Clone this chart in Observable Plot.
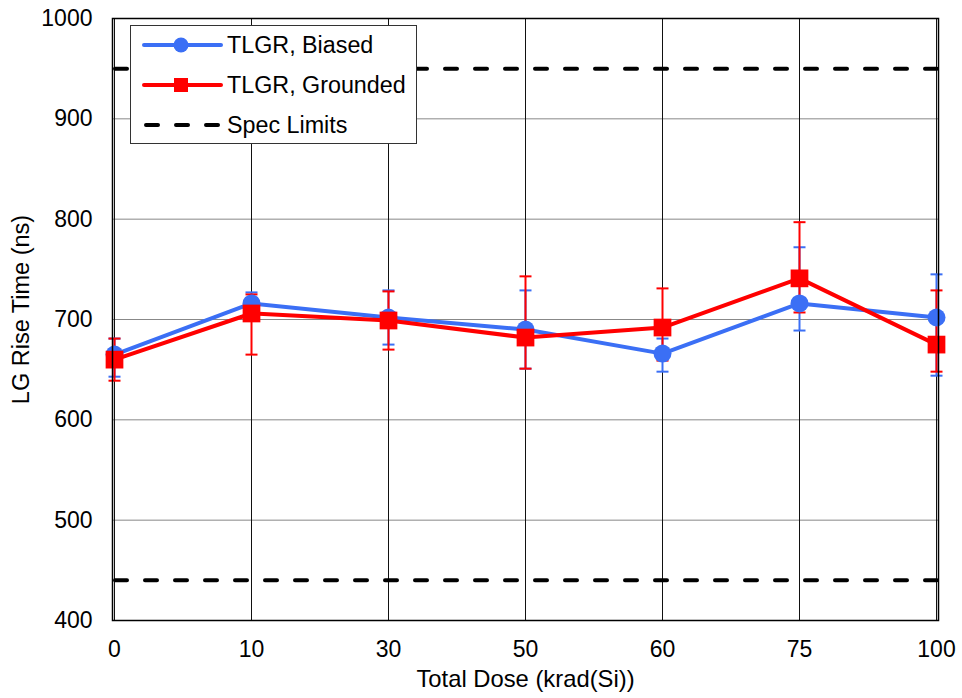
<!DOCTYPE html>
<html>
<head>
<meta charset="utf-8">
<script src="https://cdn.jsdelivr.net/npm/d3@7"></script>
<script src="https://cdn.jsdelivr.net/npm/@observablehq/plot@0.6"></script>
<style>
  html, body { margin: 0; padding: 0; background: #fff; }
  #wrap { position: relative; width: 962px; height: 698px; font-family: "Liberation Sans", Arial, sans-serif; }
  #legend { position: absolute; left: 130px; top: 25px; width: 287px; height: 119px;
            border: 1px solid #333; background: #fff; box-sizing: border-box; }
  #legend svg { position: absolute; left: 0; top: 0; }
</style>
</head>
<body>
<div id="wrap"></div>
<script>
// Total dose steps (krad(Si)), shown as evenly spaced categories
const doses = ["0", "10", "30", "50", "60", "75", "100"];

// TLGR, Biased: mean LG rise time (ns) with min / max
const biased   = [665, 716, 702, 690, 666, 716, 702];
const biasedLo = [643, 706, 675, 651, 648, 689, 644];
const biasedHi = [681, 727, 729, 729, 681, 772, 745];

// TLGR, Grounded: mean LG rise time (ns) with min / max
const grounded   = [660, 706, 699, 682, 692, 741, 675];
const groundedLo = [639, 665, 670, 651, 659, 707, 648];
const groundedHi = [681, 725, 728, 743, 731, 797, 729];

// Specification limits (ns)
const specLimits = [950, 440];

// Y axis ticks
const yTicks = [400, 500, 600, 700, 800, 900, 1000];

const BLUE = "#3b6ff5";
const RED = "#ff0000";
const FONT = "'Liberation Sans', Arial, sans-serif";

const rows = (v, lo, hi) => doses.map((d, i) => ({dose: d, v: v[i], lo: lo[i], hi: hi[i]}));
const biasedRows = rows(biased, biasedLo, biasedHi);
const groundedRows = rows(grounded, groundedLo, groundedHi);

// horizontal cap drawn as a symbol, its half-width equals r
const capSymbol = {
  draw(context, size) {
    const r = Math.sqrt(size / Math.PI);
    context.moveTo(-r, 0);
    context.lineTo(r, 0);
  }
};

const errorBars = (data, color) => [
  Plot.ruleX(data, {x: "dose", y1: "lo", y2: "hi", stroke: color, strokeWidth: 2}),
  Plot.dot(data, {x: "dose", y: "lo", symbol: capSymbol, r: 6, stroke: color, strokeWidth: 2, fill: "none"}),
  Plot.dot(data, {x: "dose", y: "hi", symbol: capSymbol, r: 6, stroke: color, strokeWidth: 2, fill: "none"})
];

const chart = Plot.plot({
  width: 962,
  height: 698,
  marginLeft: 112,
  marginRight: 24,
  marginTop: 18,
  marginBottom: 78,
  style: {fontFamily: FONT, fontSize: "23px", color: "#000", background: "#fff"},
  x: {type: "point", domain: doses, padding: 0, label: null, tickSize: 0, tickPadding: 20},
  y: {domain: [400, 1000], ticks: yTicks, tickFormat: d3.format("d"), label: null, tickSize: 0, tickPadding: 20},
  marks: [
    Plot.ruleY(yTicks, {stroke: "#888", strokeWidth: 1}),
    Plot.ruleX(doses, {stroke: "#111", strokeWidth: 1}),
    Plot.ruleY(specLimits, {stroke: "#000", strokeWidth: 4, strokeDasharray: "12,18", strokeDashoffset: -3, strokeLinecap: "round"}),
    ...errorBars(biasedRows, BLUE),
    ...errorBars(groundedRows, RED),
    Plot.line(biasedRows, {x: "dose", y: "v", stroke: BLUE, strokeWidth: 4}),
    Plot.dot(biasedRows, {x: "dose", y: "v", symbol: "circle", r: 9, fill: BLUE, stroke: "none"}),
    Plot.line(groundedRows, {x: "dose", y: "v", stroke: RED, strokeWidth: 4}),
    Plot.dot(groundedRows, {x: "dose", y: "v", symbol: "square", r: 10, fill: RED, stroke: "none"}),
    Plot.frame({stroke: "#000", strokeWidth: 1.5}),
    Plot.text(["Total Dose (krad(Si))"], {frameAnchor: "bottom", textAnchor: "middle", dy: 66, fontSize: 23.8, fill: "#000"}),
    Plot.text(["LG Rise Time (ns)"], {frameAnchor: "left", textAnchor: "middle", dx: -91, dy: -10, rotate: -90, fontSize: 23.5, fill: "#000"})
  ]
});

const wrap = document.getElementById("wrap");
wrap.appendChild(chart);

// Legend inside the plot area
const legend = document.createElement("div");
legend.id = "legend";
const entries = [
  {label: "TLGR, Biased", color: BLUE, marker: "circle", dash: null},
  {label: "TLGR, Grounded", color: RED, marker: "square", dash: null},
  {label: "Spec Limits", color: "#000", marker: null, dash: "12,18"}
];
const ns = "http://www.w3.org/2000/svg";
const lsvg = document.createElementNS(ns, "svg");
lsvg.setAttribute("width", 287);
lsvg.setAttribute("height", 119);
entries.forEach((e, i) => {
  const cy = 19 + i * 40;
  const line = document.createElementNS(ns, "line");
  line.setAttribute("x1", e.dash ? 15 : 13);
  line.setAttribute("x2", e.dash ? 91 : 90);
  line.setAttribute("y1", cy);
  line.setAttribute("y2", cy);
  line.setAttribute("stroke", e.color);
  line.setAttribute("stroke-width", 4);
  line.setAttribute("stroke-linecap", "round");
  if (e.dash) line.setAttribute("stroke-dasharray", e.dash);
  lsvg.appendChild(line);
  if (e.marker === "circle") {
    const c = document.createElementNS(ns, "circle");
    c.setAttribute("cx", 50); c.setAttribute("cy", cy); c.setAttribute("r", 7.5);
    c.setAttribute("fill", e.color);
    lsvg.appendChild(c);
  } else if (e.marker === "square") {
    const s = document.createElementNS(ns, "rect");
    s.setAttribute("x", 43); s.setAttribute("y", cy - 7); s.setAttribute("width", 14); s.setAttribute("height", 14);
    s.setAttribute("fill", e.color);
    lsvg.appendChild(s);
  }
  const t = document.createElementNS(ns, "text");
  t.setAttribute("x", 96);
  t.setAttribute("y", cy);
  t.setAttribute("dy", "0.36em");
  t.setAttribute("font-size", 23.3);
  t.setAttribute("font-family", FONT);
  t.setAttribute("fill", "#000");
  t.textContent = e.label;
  lsvg.appendChild(t);
});
legend.appendChild(lsvg);
wrap.appendChild(legend);
</script>
</body>
</html>
